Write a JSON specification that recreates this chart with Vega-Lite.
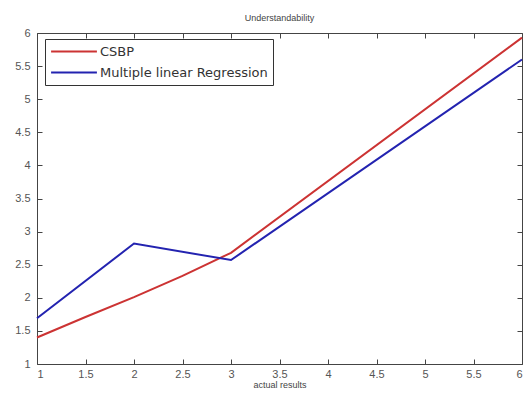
{
  "$schema": "https://vega.github.io/schema/vega-lite/v6.json",
  "width": 485,
  "height": 331,
  "autosize": {"type": "none"},
  "padding": {"left": 37, "top": 33, "right": 6, "bottom": 32},
  "background": "white",
  "config": {
    "font": "Liberation Sans",
    "view": {"stroke": "#444444", "strokeWidth": 1},
    "axis": {"grid": false, "domain": false, "tickColor": "#444444", "labelColor": "#555555", "labelFontSize": 11, "tickSize": 5, "offset": -5, "titleFontSize": 9, "titleFontWeight": "normal", "titleColor": "#444444", "format": ".1~f"}
  },
  "title": {"text": "Understandability", "fontSize": 9, "fontWeight": "normal", "color": "#444444", "offset": 4},
  "data": {
    "values": [
      {"x": 1, "y": 1.4, "series": "CSBP"},
      {"x": 1.5, "y": 1.71, "series": "CSBP"},
      {"x": 2, "y": 2.01, "series": "CSBP"},
      {"x": 2.5, "y": 2.33, "series": "CSBP"},
      {"x": 3, "y": 2.68, "series": "CSBP"},
      {"x": 6, "y": 5.93, "series": "CSBP"},
      {"x": 1, "y": 1.69, "series": "Multiple linear Regression"},
      {"x": 2, "y": 2.82, "series": "Multiple linear Regression"},
      {"x": 3, "y": 2.57, "series": "Multiple linear Regression"},
      {"x": 6, "y": 5.6, "series": "Multiple linear Regression"}
    ]
  },
  "layer": [
    {
      "mark": {"type": "line", "strokeWidth": 2},
      "encoding": {
        "x": {"field": "x", "type": "quantitative", "scale": {"domain": [1, 6], "nice": false}, "axis": {"title": "actual results", "values": [1, 1.5, 2, 2.5, 3, 3.5, 4, 4.5, 5, 5.5, 6], "labelPadding": 4, "titlePadding": 1}},
        "y": {"field": "y", "type": "quantitative", "scale": {"domain": [1, 6], "nice": false, "zero": false}, "axis": {"title": null, "values": [1, 1.5, 2, 2.5, 3, 3.5, 4, 4.5, 5, 5.5, 6], "labelPadding": 7}},
        "color": {"field": "series", "type": "nominal", "scale": {"domain": ["CSBP", "Multiple linear Regression"], "range": ["#cc3333", "#2323b0"]},
          "legend": {"title": null, "orient": "none", "legendX": 8, "legendY": 6, "strokeColor": "#333333", "fillColor": "white", "padding": 5, "symbolType": "stroke", "symbolSize": 2100, "symbolStrokeWidth": 2, "clipHeight": 15, "labelFont": "DejaVu Sans", "labelFontSize": 13, "labelLimit": 400, "labelColor": "#333333", "rowPadding": 6, "labelOffset": 2}}
      }
    },
    {
      "mark": {"type": "line", "opacity": 0},
      "encoding": {
        "x": {"field": "x", "type": "quantitative", "scale": {"domain": [1, 6], "nice": false}, "axis": {"orient": "top", "labels": false, "title": null, "values": [1, 1.5, 2, 2.5, 3, 3.5, 4, 4.5, 5, 5.5, 6]}},
        "y": {"field": "y", "type": "quantitative", "scale": {"domain": [1, 6], "nice": false, "zero": false}, "axis": {"orient": "right", "labels": false, "title": null, "values": [1, 1.5, 2, 2.5, 3, 3.5, 4, 4.5, 5, 5.5, 6]}},
        "detail": {"field": "series"}
      }
    }
  ],
  "resolve": {"scale": {"x": "independent", "y": "independent"}, "axis": {"x": "independent", "y": "independent"}}
}
